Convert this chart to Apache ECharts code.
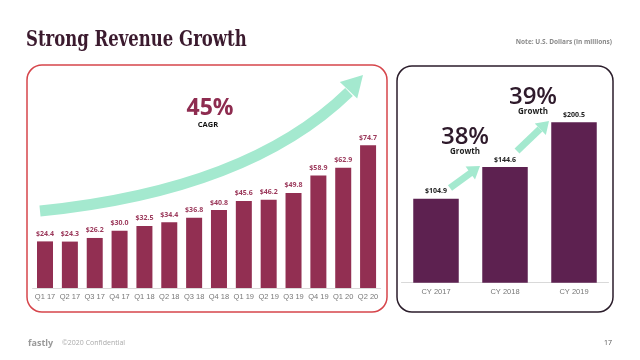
<!DOCTYPE html>
<html><head><meta charset="utf-8">
<script src="https://cdn.jsdelivr.net/npm/echarts@6/dist/echarts.min.js"></script>
<style>html,body{margin:0;padding:0;background:#fff}#c{width:640px;height:360px}</style>
</head><body><div id="c"></div>
<script>
const quarters = ['Q1 17','Q2 17','Q3 17','Q4 17','Q1 18','Q2 18','Q3 18','Q4 18','Q1 19','Q2 19','Q3 19','Q4 19','Q1 20','Q2 20'];
const quarterlyRevenue = [24.4,24.3,26.2,30.0,32.5,34.4,36.8,40.8,45.6,46.2,49.8,58.9,62.9,74.7];
const years = ['CY 2017','CY 2018','CY 2019'];
const annualRevenue = [104.9,144.6,200.5];
const titleText = 'Strong Revenue Growth';
const noteText = 'Note: U.S. Dollars (in millions)';

const chart = echarts.init(document.getElementById('c'), null, {renderer:'canvas'});
const green = '#a4e9cf';
const fmt = p => '$' + p.value.toFixed(1);

function arrowHead(tip, dirx, diry, len, half){
  const n = Math.hypot(dirx, diry); dirx/=n; diry/=n;
  const bx = tip[0]-dirx*len, by = tip[1]-diry*len;
  return [[tip[0],tip[1]],[bx - diry*half, by + dirx*half],[bx + diry*half, by - dirx*half]];
}

chart.setOption({
  animation:false,
  grid:[
    {left:32.6, width:347.9, top:135.2, bottom:72},
    {left:401.5, width:207, top:82.7, bottom:77.3}
  ],
  xAxis:[
    {gridIndex:0, type:'category', data:quarters, axisTick:{show:false},
     axisLine:{lineStyle:{color:'#d9d9d9'}},
     axisLabel:{interval:0, color:'#777', fontSize:7.5, margin:5, fontFamily:'Liberation Sans'}},
    {gridIndex:1, type:'category', data:years, axisTick:{show:false},
     axisLine:{lineStyle:{color:'#d9d9d9'}},
     axisLabel:{interval:0, color:'#777', fontSize:7.5, margin:5, fontFamily:'Liberation Sans'}}
  ],
  yAxis:[
    {gridIndex:0, type:'value', min:0, max:80, show:false, splitLine:{show:false}},
    {gridIndex:1, type:'value', min:0, max:250, show:false, splitLine:{show:false}}
  ],
  series:[
    {type:'bar', xAxisIndex:0, yAxisIndex:0, data:quarterlyRevenue, barWidth:16,
     itemStyle:{color:'#922f52'},
     label:{show:true, position:'top', distance:4, formatter:fmt, color:'#9c3a5c', fontSize:7, fontWeight:'bold', fontFamily:'Open Sans'}},
    {type:'bar', xAxisIndex:1, yAxisIndex:1, data:annualRevenue, barWidth:45.5,
     itemStyle:{color:'#5d2150'},
     label:{show:true, position:'top', distance:4, formatter:fmt, color:'#222', fontSize:7, fontWeight:'bold', fontFamily:'Open Sans'}}
  ],
  graphic:[
    {type:'text', x:26, y:29, scaleX:0.75, style:{text:titleText, fill:'#3b1a2e', font:'bold 22px "DejaVu Serif", serif'}},
    {type:'text', right:28, top:39, style:{text:noteText, fill:'#888', font:'bold 6.5px "Open Sans"'}},
    {type:'rect', shape:{x:27, y:65, width:360, height:247, r:15}, style:{fill:'none', stroke:'#d6454b', lineWidth:1.5}, z:-1},
    {type:'rect', shape:{x:397, y:66, width:216, height:246, r:15}, style:{fill:'none', stroke:'#2b1d2b', lineWidth:1.5}, z:-1},
    {type:'bezierCurve', shape:{x1:40, y1:211, cpx1:170, cpy1:198, cpx2:278, cpy2:161, x2:349, y2:92},
     style:{stroke:green, lineWidth:11, fill:'none', lineCap:'butt'}, z:1},
    {type:'polygon', shape:{points:arrowHead([363,75], 1, -1.05, 21, 12)}, style:{fill:green}, z:1},
    {type:'text', x:210, y:108, style:{text:'45%', fill:'#8e2c50', font:'bold 23px "Open Sans"', align:'center', verticalAlign:'middle'}},
    {type:'text', x:208, y:125, style:{text:'CAGR', fill:'#111', font:'bold 7.5px "Open Sans"', align:'center', verticalAlign:'middle'}},
    {type:'line', shape:{x1:450, y1:188, x2:472, y2:172}, style:{stroke:green, lineWidth:7}, z:1},
    {type:'polygon', shape:{points:arrowHead([480,166], 22, -16, 12, 8)}, style:{fill:green}, z:1},
    {type:'line', shape:{x1:517, y1:151, x2:540, y2:129}, style:{stroke:green, lineWidth:7}, z:1},
    {type:'polygon', shape:{points:arrowHead([549,121], 23, -22, 12, 8)}, style:{fill:green}, z:1},
    {type:'text', x:465, y:137, style:{text:'38%', fill:'#2e1a2b', font:'600 24px "Open Sans"', align:'center', verticalAlign:'middle'}},
    {type:'text', x:465, y:152, style:{text:'Growth', fill:'#222', font:'bold 8px "Open Sans"', align:'center', verticalAlign:'middle'}},
    {type:'text', x:533, y:97, style:{text:'39%', fill:'#2e1a2b', font:'600 24px "Open Sans"', align:'center', verticalAlign:'middle'}},
    {type:'text', x:533, y:112, style:{text:'Growth', fill:'#222', font:'bold 8px "Open Sans"', align:'center', verticalAlign:'middle'}},
    {type:'text', x:28, y:343, style:{text:'fastly', fill:'#999', font:'bold 9px "Open Sans"', verticalAlign:'middle'}},
    {type:'text', x:62, y:343, style:{text:'©2020 Confidential', fill:'#aaa', font:'7px "Open Sans"', verticalAlign:'middle'}},
    {type:'text', x:612, y:343, style:{text:'17', fill:'#555', font:'7px "Open Sans"', align:'right', verticalAlign:'middle'}}
  ]
});
</script></body></html>
